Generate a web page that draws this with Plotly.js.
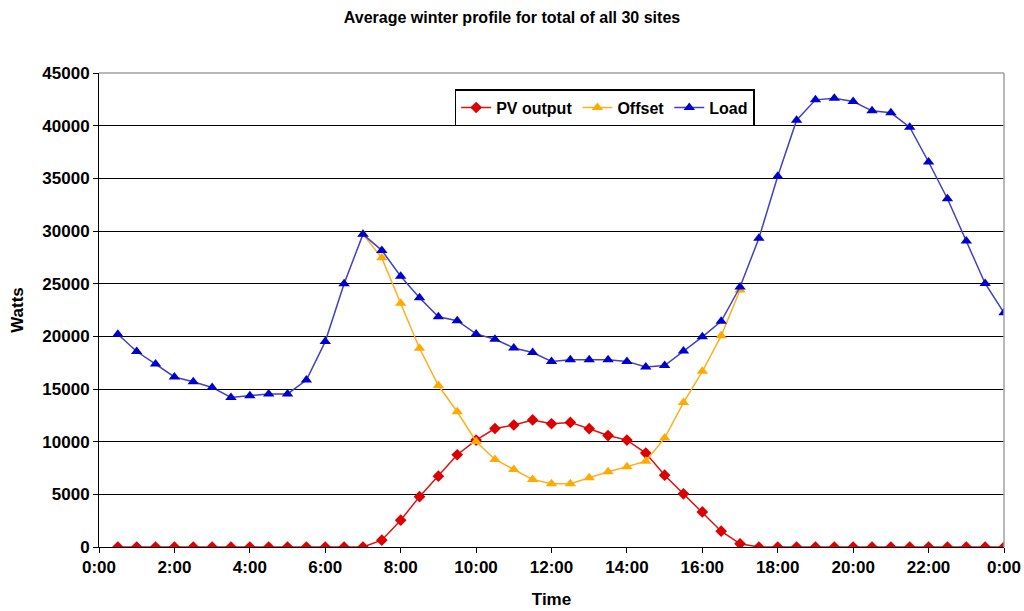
<!DOCTYPE html>
<html>
<head>
<meta charset="utf-8">
<script src="https://cdn.plot.ly/plotly-3.0.1.min.js"></script>
<style>html,body{margin:0;padding:0;background:#fff;}#chart{width:1024px;height:611px;}</style>
</head>
<body>
<div id="chart"></div>
<script>
// Half-hourly times (hours): 0:30 ... 24:00
const hours = [0.5,1,1.5,2,2.5,3,3.5,4,4.5,5,5.5,6,6.5,7,7.5,8,8.5,9,9.5,10,10.5,11,11.5,12,12.5,13,13.5,14,14.5,15,15.5,16,16.5,17,17.5,18,18.5,19,19.5,20,20.5,21,21.5,22,22.5,23,23.5,24];

const pvOutput = [0,0,0,0,0,0,0,0,0,0,0,0,0,0,650,2550,4780,6720,8760,10150,11250,11580,12060,11700,11830,11230,10580,10150,8920,6820,5050,3330,1500,300,0,0,0,0,0,0,0,0,0,0,0,0,0,0];

const offset = [null,null,null,null,null,null,null,null,null,null,null,null,null,29680,27450,23130,18870,15330,12840,10020,8310,7360,6400,6000,6000,6570,7140,7620,8150,10340,13710,16680,20050,24400,null,null,null,null,null,null,null,null,null,null,null,null,null,null];

const load = [20200,18560,17370,16140,15690,15150,14200,14370,14530,14530,15850,19500,25000,29680,28160,25700,23660,21860,21480,20230,19720,18900,18460,17620,17770,17770,17770,17620,17080,17230,18610,19950,21430,24680,29310,35200,40520,42450,42600,42290,41410,41220,39860,36550,33060,29060,25020,22230];

const tickHours = [0,2,4,6,8,10,12,14,16,18,20,22,24];
const tickLabels = ["0:00","2:00","4:00","6:00","8:00","10:00","12:00","14:00","16:00","18:00","20:00","22:00","0:00"];

const FONT = "Liberation Sans, Arial, sans-serif";

const traces = [
  {x: hours, y: pvOutput, name: "PV output", type: "scatter", mode: "lines+markers",
   line: {color: "#e01010", width: 1.5}, marker: {symbol: "diamond", size: 9, color: "#dd0000"}},
  {x: hours, y: offset, name: "Offset", type: "scatter", mode: "lines+markers",
   line: {color: "#ffb020", width: 1.5}, marker: {symbol: "triangle-up", size: 10, color: "#ffaa00"}},
  {x: hours, y: load, name: "Load", type: "scatter", mode: "lines+markers",
   line: {color: "#4040c8", width: 1.5}, marker: {symbol: "triangle-up", size: 10, color: "#0000cc"}}
];

const layout = {
  width: 1024, height: 611,
  margin: {l: 99, r: 20, t: 73, b: 64},
  paper_bgcolor: "#fff", plot_bgcolor: "#fff",
  font: {family: FONT, color: "#000", size: 15, weight: "bold"},
  title: {text: "<b>Average winter profile for total of all 30 sites</b>", x: 0.5, xanchor: "center", y: 0.972, yanchor: "middle",
          font: {family: FONT, size: 16, color: "#000"}},
  xaxis: {
    range: [0, 24], tickmode: "array", tickvals: tickHours, ticktext: tickLabels,
    showgrid: false, zeroline: false, showline: true, linecolor: "#000", linewidth: 1,
    ticks: "outside", ticklen: 5, tickcolor: "#000",
    tickfont: {family: FONT, size: 17, color: "#000", weight: "bold"},
    title: {text: "<b>Time</b>", font: {family: FONT, size: 17, color: "#000"}, standoff: 16}
  },
  yaxis: {
    range: [0, 45000], dtick: 5000, tick0: 0, tickformat: "d",
    showgrid: true, gridcolor: "#000", gridwidth: 1,
    zeroline: false, showline: true, linecolor: "#000", linewidth: 1,
    ticks: "outside", ticklen: 5, tickcolor: "#000",
    tickfont: {family: FONT, size: 17, color: "#000", weight: "bold"},
    title: {text: "<b>Watts</b>", font: {family: FONT, size: 17, color: "#000"}, standoff: 14}
  },
  shapes: [
    {type: "line", xref: "paper", yref: "paper", x0: 0, x1: 1, y0: 1, y1: 1, line: {color: "#a0a0a0", width: 1.5}, layer: "above"},
    {type: "line", xref: "paper", yref: "paper", x0: 1, x1: 1, y0: 0, y1: 1, line: {color: "#a0a0a0", width: 1.5}, layer: "above"}
  ],
  legend: {
    orientation: "h", x: 0.393, y: 0.966, xanchor: "left", yanchor: "top",
    bgcolor: "#fff", bordercolor: "#000", borderwidth: 1.5,
    font: {family: FONT, size: 16, color: "#000", weight: "bold"},
    itemwidth: 30, tracegroupgap: 0
  },
  showlegend: true
};

Plotly.newPlot("chart", traces, layout, {displayModeBar: false, staticPlot: true});
</script>
</body>
</html>
